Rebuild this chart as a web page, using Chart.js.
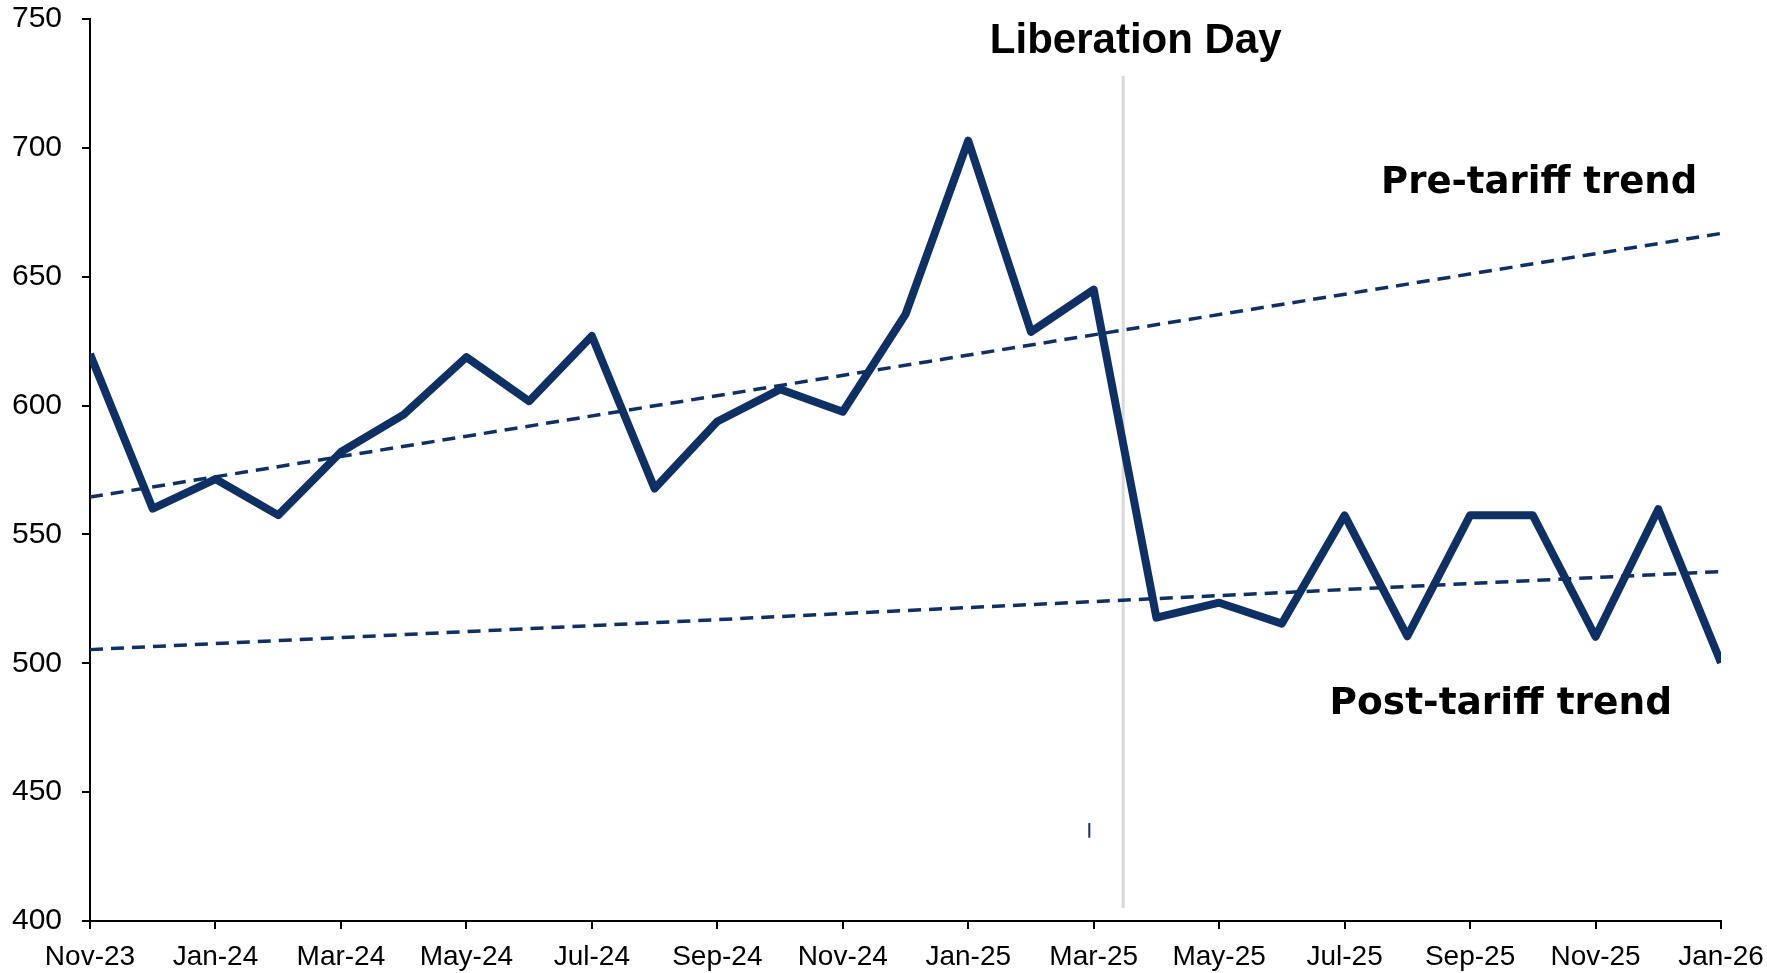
<!DOCTYPE html>
<html>
<head>
<meta charset="utf-8">
<title>Liberation Day</title>
<script src="https://cdn.jsdelivr.net/npm/chart.js@4.4.1/dist/chart.umd.min.js"></script>
<style>
  html, body { margin: 0; padding: 0; background: #fff; }
  #wrap { width: 1767px; height: 973px; }
</style>
</head>
<body>
<div id="wrap"><canvas id="tradeChart" width="1767" height="973"></canvas></div>
<script>
// categories (monthly)
const months = [
  "Nov-23", "Dec-23", "Jan-24", "Feb-24", "Mar-24", "Apr-24", "May-24",
  "Jun-24", "Jul-24", "Aug-24", "Sep-24", "Oct-24", "Nov-24", "Dec-24",
  "Jan-25", "Feb-25", "Mar-25", "Apr-25", "May-25", "Jun-25", "Jul-25",
  "Aug-25", "Sep-25", "Oct-25", "Nov-25", "Dec-25", "Jan-26",
];

// main series
const actual = [
  620, 560, 571.5, 557.5, 582, 596.5, 618.8, 601.7, 627, 567.8, 593.8,
  606.3, 597.6, 635.4, 702.8, 628.6, 645, 517.7, 523.5, 515.4, 557.4,
  510.5, 557.4, 557.4, 510.3, 559.8, 500.2,
];

// trend lines: only the two end values, the line spans the gaps
const preTrend = [564.5, ...Array(25).fill(null), 666.8];
const postTrend = [505.3, ...Array(25).fill(null), 535.6];

// y axis
const yMin = 400;
const yMax = 750;
const yStep = 50;

// annotations (x in month index, y in axis value)
const liberationLine = { x: 16.47, from: 405, to: 728 };
const strayMark = { x: 15.93, from: 432.3, to: 438 };
const notes = [
  { text: "Liberation Day", x: 16.67, y: 737, font: "bold 42px 'Liberation Sans', Arial, sans-serif" },
  { text: "Pre-tariff trend", x: 23.1, y: 682.5, font: "bold 37px 'DejaVu Sans', sans-serif" },
  { text: "Post-tariff trend", x: 22.49, y: 480.3, font: "bold 37.5px 'DejaVu Sans', sans-serif" },
];

const NAVY = "#0E3064";

// month index -> pixel, also for positions between categories
function idxToPx(xs, idx) {
  const a = xs.getPixelForValue(0);
  const b = xs.getPixelForValue(months.length - 1);
  return a + (b - a) * idx / (months.length - 1);
}

const annotations = {
  id: "annotations",
  beforeDatasetsDraw(chart) {
    const { ctx, scales: { x, y } } = chart;
    ctx.save();
    // Liberation Day vertical line
    const lx = idxToPx(x, liberationLine.x);
    ctx.strokeStyle = "#D9D9D9";
    ctx.lineWidth = 3;
    ctx.beginPath();
    ctx.moveTo(lx, y.getPixelForValue(liberationLine.to));
    ctx.lineTo(lx, y.getPixelForValue(liberationLine.from));
    ctx.stroke();
    // small stray mark
    const sx = idxToPx(x, strayMark.x);
    ctx.strokeStyle = NAVY;
    ctx.lineWidth = 2;
    ctx.beginPath();
    ctx.moveTo(sx, y.getPixelForValue(strayMark.to));
    ctx.lineTo(sx, y.getPixelForValue(strayMark.from));
    ctx.stroke();
    ctx.restore();
  },
  afterDatasetsDraw(chart) {
    const { ctx, scales: { x, y } } = chart;
    ctx.save();
    ctx.fillStyle = "#000";
    ctx.textAlign = "center";
    ctx.textBaseline = "alphabetic";
    notes.forEach((n) => {
      ctx.font = n.font;
      ctx.fillText(n.text, idxToPx(x, n.x), y.getPixelForValue(n.y));
    });
    ctx.restore();
  },
};

window.addEventListener("load", () => {
  const ctx = document.getElementById("tradeChart");

  new Chart(ctx, {
    type: "line",
    data: {
      labels: months,
      datasets: [
        {
          label: "Actual",
          data: actual,
          borderColor: NAVY,
          borderWidth: 8,
          borderJoinStyle: "round",
          pointRadius: 0,
          tension: 0,
          clip: 0,
          order: 0,
        },
        {
          label: "Pre-tariff trend",
          data: preTrend,
          borderColor: NAVY,
          borderWidth: 3.5,
          borderDash: [13, 8],
          pointRadius: 0,
          spanGaps: true,
          clip: 12,
          order: 1,
        },
        {
          label: "Post-tariff trend",
          data: postTrend,
          borderColor: NAVY,
          borderWidth: 3.5,
          borderDash: [13, 8],
          pointRadius: 0,
          spanGaps: true,
          clip: 12,
          order: 1,
        },
      ],
    },
    options: {
      responsive: false,
      animation: false,
      events: [],
      layout: { padding: { top: 19, right: 46, bottom: 0, left: 0 } },
      plugins: {
        legend: { display: false },
        tooltip: { enabled: false },
      },
      scales: {
        x: {
          offset: false,
          grid: { drawOnChartArea: false, tickLength: 8, color: "#000", lineWidth: 2 },
          border: { color: "#000", width: 2 },
          ticks: {
            autoSkip: false,
            maxRotation: 0,
            padding: 11,
            color: "#000",
            font: { family: "'Liberation Sans', Arial, sans-serif", size: 28 },
            // label every second month
            callback: (val, i) => (i % 2 === 0 ? months[i] : null),
          },
          // fixed axis band, no extra label overhang
          afterFit: (s) => {
            s.height = 52;
            s.paddingLeft = 0;
            s.paddingRight = 0;
          },
        },
        y: {
          min: yMin,
          max: yMax,
          grid: { drawOnChartArea: false, tickLength: 8, color: "#000", lineWidth: 2 },
          border: { color: "#000", width: 2 },
          ticks: {
            stepSize: yStep,
            padding: 20,
            color: "#000",
            font: { family: "'Liberation Sans', Arial, sans-serif", size: 30 },
          },
          afterFit: (s) => {
            s.width = 90;
            s.paddingTop = 0;
            s.paddingBottom = 0;
          },
        },
      },
    },
    plugins: [annotations],
  });
});
</script>
</body>
</html>
